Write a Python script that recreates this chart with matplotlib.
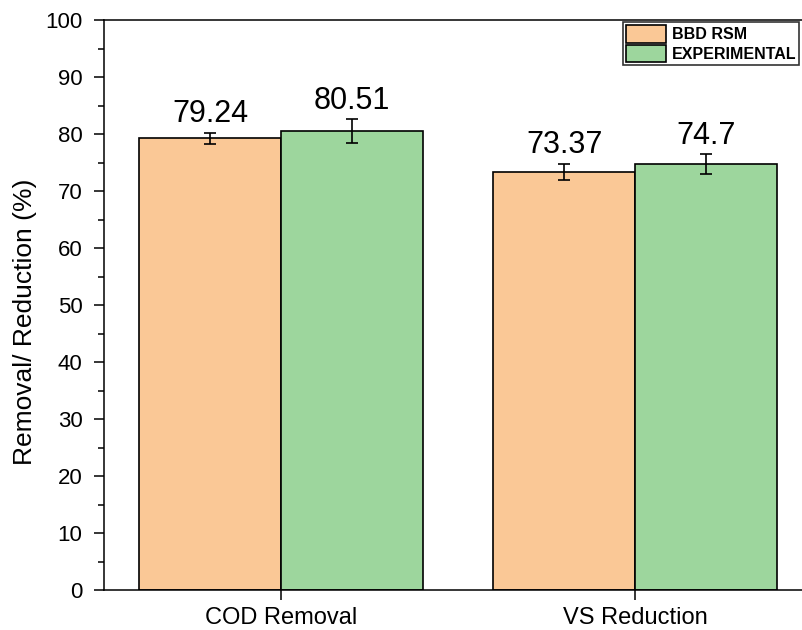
"""Removal / reduction bar chart: BBD RSM vs experimental"""
import matplotlib.pyplot as plt
import numpy as np
from matplotlib.ticker import MultipleLocator

plt.rcParams['font.family'] = ['Liberation Sans', 'DejaVu Sans']

# data
categories = ['COD Removal', 'VS Reduction']
rsm_values = [79.24, 73.37]
rsm_err = [1.0, 1.45]
exp_values = [80.51, 74.7]
exp_err = [2.05, 1.75]
value_labels_rsm = ['79.24', '73.37']
value_labels_exp = ['80.51', '74.7']

x = np.arange(len(categories))
width = 0.4

fig = plt.figure(figsize=(8.03, 6.3), dpi=100)
ax = fig.add_axes([104 / 803, 40 / 630, 708 / 803, 570 / 630])

ax.bar(x - width / 2, rsm_values, width, color='#FAC896', edgecolor='black',
       linewidth=1.2, label='BBD RSM', zorder=2)
ax.bar(x + width / 2, exp_values, width, color='#9DD69D', edgecolor='black',
       linewidth=1.2, label='EXPERIMENTAL', zorder=2)
ax.errorbar(x - width / 2, rsm_values, yerr=rsm_err, fmt='none', ecolor='black',
            elinewidth=1.2, capsize=4, capthick=1.2, zorder=3)
ax.errorbar(x + width / 2, exp_values, yerr=exp_err, fmt='none', ecolor='black',
            elinewidth=1.2, capsize=4, capthick=1.2, zorder=3)

# value labels above error bars
for xi, v, e, t in zip(x - width / 2, rsm_values, rsm_err, value_labels_rsm):
    ax.text(xi, v + e + 0.6, t, ha='center', va='bottom', fontsize=22)
for xi, v, e, t in zip(x + width / 2, exp_values, exp_err, value_labels_exp):
    ax.text(xi, v + e + 0.6, t, ha='center', va='bottom', fontsize=22)

ax.set_xlim(-0.5, 1.5)
ax.set_ylim(0, 100)
ax.set_xticks(x)
ax.set_xticklabels(categories, fontsize=17)
ax.yaxis.set_major_locator(MultipleLocator(10))
ax.yaxis.set_minor_locator(MultipleLocator(5))
ax.tick_params(axis='y', labelsize=16, direction='out', length=7.5, width=1.1, pad=8)
ax.tick_params(axis='y', which='minor', direction='out', length=4.5, width=1.1)
ax.tick_params(axis='x', direction='out', length=7.5, width=1.1, pad=5)
ax.set_ylabel('Removal/ Reduction (%)', fontsize=19)
ax.yaxis.set_label_coords(-0.095, 0.47)

for s in ax.spines.values():
    s.set_linewidth(1.1)
ax.spines['right'].set_visible(False)

leg = ax.legend(loc='upper left', bbox_to_anchor=(623 / 803, 1 - 22 / 630),
                bbox_transform=fig.transFigure, frameon=True, fancybox=False,
                prop={'weight': 'bold', 'size': 11.5}, handlelength=2.5,
                handleheight=1.3, handletextpad=0.35, labelspacing=0.12,
                borderpad=0.2, borderaxespad=0)
leg.get_frame().set_edgecolor('black')
leg.get_frame().set_linewidth(1.2)

plt.savefig('out.png', dpi=100)
